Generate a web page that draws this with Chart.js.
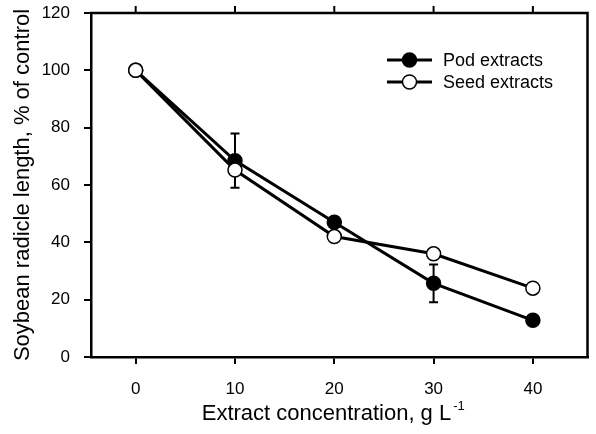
<!DOCTYPE html>
<html>
<head>
<meta charset="utf-8">
<script src="https://cdn.jsdelivr.net/npm/chart.js@4/dist/chart.umd.min.js"></script>
<style>
  html, body { margin: 0; padding: 0; background: #fff; }
  canvas { display: block; }
</style>
</head>
<body>
<canvas id="c" width="596" height="434"></canvas>
<script>
// ---- data ----
const concentrations = [0, 10, 20, 30, 40];
const podValues  = [100, 68.5, 47.0, 25.7, 12.8];
const podErrors  = [0, 9.5, 0, 6.6, 0];
const seedValues = [100, 65.2, 42.0, 36.0, 24.0];
const seedErrors = [0, 0, 0, 0, 0];
const yTicks = [0, 20, 40, 60, 80, 100, 120];
const seriesLabels = ['Pod extracts', 'Seed extracts'];
const xTitleMain = 'Extract concentration, g L';
const xTitleSup = '-1';
const yTitle = 'Soybean radicle length, % of control';

const FONT = "Arial, 'Liberation Sans', Helvetica, sans-serif";

const toXY = (xs, ys) => xs.map((x, i) => ({ x: x, y: ys[i] }));

const whiteBg = {
  id: 'whiteBg',
  beforeDraw(chart) {
    const c = chart.ctx;
    c.save(); c.fillStyle = '#fff'; c.fillRect(0, 0, chart.width, chart.height); c.restore();
  }
};

const errorBars = {
  id: 'errorBars',
  beforeDatasetsDraw(chart) {
    const c = chart.ctx, xs = chart.scales.x, ys = chart.scales.y;
    const sets = [[podValues, podErrors], [seedValues, seedErrors]];
    c.save();
    c.strokeStyle = '#000'; c.lineWidth = 2;
    sets.forEach(([vals, errs]) => {
      concentrations.forEach((cx, i) => {
        if (!errs[i]) return;
        const px = xs.getPixelForValue(cx);
        const top = ys.getPixelForValue(vals[i] + errs[i]);
        const bot = ys.getPixelForValue(vals[i] - errs[i]);
        c.beginPath();
        c.moveTo(px, top); c.lineTo(px, bot);
        c.moveTo(px - 4.5, top); c.lineTo(px + 4.5, top);
        c.moveTo(px - 4.5, bot); c.lineTo(px + 4.5, bot);
        c.stroke();
      });
    });
    c.restore();
  }
};

const frame = {
  id: 'frame',
  afterDraw(chart) {
    const c = chart.ctx, a = chart.chartArea, xs = chart.scales.x;
    c.save();
    c.strokeStyle = '#000';
    c.lineWidth = 2.5;
    c.beginPath();
    c.moveTo(a.left - 1, a.top); c.lineTo(a.right, a.top); c.lineTo(a.right, a.bottom);
    c.stroke();
    // top ticks
    c.lineWidth = 2;
    c.beginPath();
    concentrations.forEach(v => {
      const px = xs.getPixelForValue(v);
      c.moveTo(px, a.top); c.lineTo(px, a.top - 7);
    });
    c.stroke();

    // x-axis title with superscript
    c.fillStyle = '#000';
    c.textBaseline = 'alphabetic';
    c.font = '22px ' + FONT;
    const wMain = c.measureText(xTitleMain).width;
    c.font = '13px ' + FONT;
    const wSup = c.measureText(xTitleSup).width;
    const total = wMain + 2 + wSup;
    const startX = (a.left + a.right) / 2 - 6 - total / 2;
    const baseY = a.bottom + 63;
    c.font = '22px ' + FONT;
    c.textAlign = 'left';
    c.fillText(xTitleMain, startX, baseY);
    c.font = '13px ' + FONT;
    c.fillText(xTitleSup, startX + wMain + 2, baseY - 10);

    // legend
    const sets = chart.data.datasets;
    const order = [1, 0]; // pod first, seed second (dataset indices)
    order.forEach((di, row) => {
      const ds = sets[di];
      const y = a.top + 47 + row * 22;
      const x0 = a.left + 296;
      c.strokeStyle = '#000'; c.lineWidth = 3;
      c.beginPath(); c.moveTo(x0, y); c.lineTo(x0 + 45, y); c.stroke();
      c.beginPath(); c.arc(x0 + 22.5, y, 7, 0, Math.PI * 2);
      c.fillStyle = ds.pointBackgroundColor; c.fill();
      c.lineWidth = 1.5; c.stroke();
      c.fillStyle = '#000';
      c.font = '18px ' + FONT;
      c.textBaseline = 'middle';
      c.fillText(ds.label, x0 + 56, y + 1);
    });
    c.restore();
  }
};

new Chart(document.getElementById('c'), {
  type: 'line',
  data: {
    datasets: [
      {
        label: seriesLabels[1],
        data: toXY(concentrations, seedValues),
        borderColor: '#000', borderWidth: 3,
        pointBackgroundColor: '#fff', pointBorderColor: '#000',
        pointRadius: 7, pointBorderWidth: 1.5, pointHoverRadius: 7,
        tension: 0, order: 0
      },
      {
        label: seriesLabels[0],
        data: toXY(concentrations, podValues),
        borderColor: '#000', borderWidth: 3,
        pointBackgroundColor: '#000', pointBorderColor: '#000',
        pointRadius: 7, pointBorderWidth: 1.5, pointHoverRadius: 7,
        tension: 0, order: 1
      }
    ]
  },
  options: {
    responsive: false,
    animation: false,
    events: [],
    layout: { padding: { top: 13, right: 6, left: 0, bottom: 0 } },
    plugins: { legend: { display: false }, tooltip: { enabled: false } },
    scales: {
      x: {
        type: 'linear',
        min: -4.5, max: 45.5,
        afterBuildTicks(s) { s.ticks = concentrations.map(v => ({ value: v })); },
        afterFit(s) { s.height = 77; s.paddingLeft = 0; s.paddingRight = 0; },
        border: { display: true, color: '#000', width: 2.5 },
        grid: { display: true, drawOnChartArea: false, drawTicks: true, tickLength: 7, color: '#000', lineWidth: 2 },
        ticks: { color: '#000', font: { family: FONT, size: 17 }, padding: 15, maxRotation: 0 },
        title: { display: false }
      },
      y: {
        type: 'linear',
        min: 0, max: 120,
        afterBuildTicks(s) { s.ticks = yTicks.map(v => ({ value: v })); },
        afterFit(s) { s.width = 91; s.paddingTop = 0; s.paddingBottom = 0; },
        border: { display: true, color: '#000', width: 2.5 },
        grid: { display: true, drawOnChartArea: false, drawTicks: true, tickLength: 7, color: '#000', lineWidth: 2 },
        ticks: { color: '#000', font: { family: FONT, size: 17 }, padding: 14 },
        title: { display: true, text: yTitle, color: '#000', font: { family: FONT, size: 22 }, padding: { top: 10, bottom: 0 } }
      }
    }
  },
  plugins: [whiteBg, errorBars, frame]
});
</script>
</body>
</html>
